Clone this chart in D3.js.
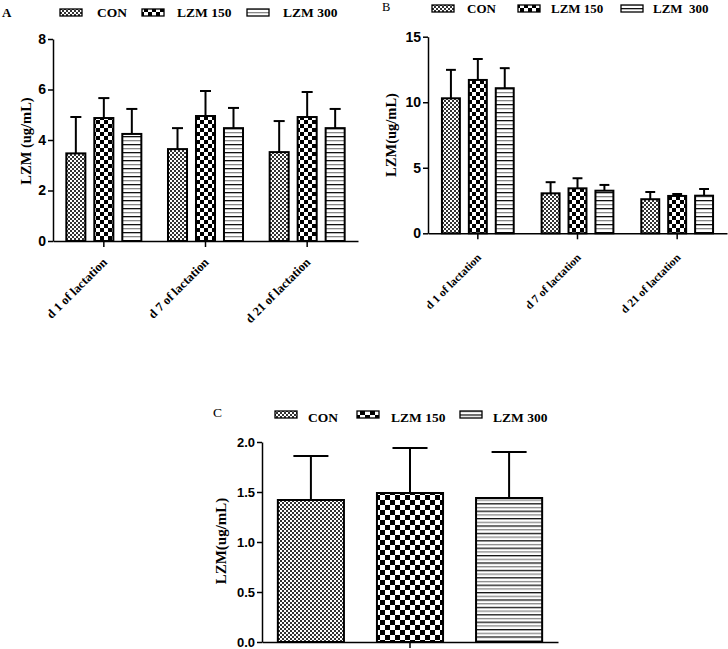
<!DOCTYPE html>
<html>
<head>
<meta charset="utf-8">
<script src="https://cdn.jsdelivr.net/npm/d3@7"></script>
<style>
  html, body { margin: 0; padding: 0; background: #fff; }
  svg { display: block; }
  .serif { font-family: "Liberation Serif", "Times New Roman", serif; }
  .sans { font-family: "Liberation Sans", Arial, sans-serif; }
</style>
</head>
<body>
<svg id="chart" width="728" height="649"></svg>
<script>
// ---------------- DATA ----------------
const categories = ["d 1 of lactation", "d 7 of lactation", "d 21 of lactation"];
const seriesNames = ["CON", "LZM 150", "LZM 300"];
const legendLabelsB = ["CON", "LZM 150", "LZM\u00a0 300"];

// Panel A (LZM, ug/mL)
const A_CON      = [3.47, 3.64, 3.52];
const A_CON_SD   = [1.44, 0.83, 1.23];
const A_L150     = [4.87, 4.95, 4.91];
const A_L150_SD  = [0.79, 0.99, 0.99];
const A_L300     = [4.24, 4.47, 4.47];
const A_L300_SD  = [0.99, 0.80, 0.76];
const A_TICKS    = [0, 2, 4, 6, 8];

// Panel B
const B_CON      = [10.30, 3.05, 2.60];
const B_CON_SD   = [2.17, 0.85, 0.55];
const B_L150     = [11.70, 3.43, 2.85];
const B_L150_SD  = [1.60, 0.77, 0.15];
const B_L300     = [11.07, 3.25, 2.87];
const B_L300_SD  = [1.53, 0.44, 0.51];
const B_TICKS    = [0, 5, 10, 15];

// Panel C (single group)
const C_CATEGORY = [""];
const C_CON      = [1.42];
const C_CON_SD   = [0.44];
const C_L150     = [1.49];
const C_L150_SD  = [0.45];
const C_L300     = [1.44];
const C_L300_SD  = [0.46];
const C_TICKS    = [0.0, 0.5, 1.0, 1.5, 2.0];

// ---------------- DRAW ----------------
const svg = d3.select("#chart");
const defs = svg.append("defs");

function fineCheck(id, s) {
  const p = defs.append("pattern").attr("id", id).attr("patternUnits", "userSpaceOnUse")
    .attr("width", 2 * s).attr("height", 2 * s);
  p.append("rect").attr("width", 2 * s).attr("height", 2 * s).attr("fill", "#fff");
  p.append("rect").attr("width", s).attr("height", s).attr("fill", "#333");
  p.append("rect").attr("x", s).attr("y", s).attr("width", s).attr("height", s).attr("fill", "#333");
}
function coarseCheck(id, s) {
  const p = defs.append("pattern").attr("id", id).attr("patternUnits", "userSpaceOnUse")
    .attr("width", 2 * s).attr("height", 2 * s);
  p.append("rect").attr("width", 2 * s).attr("height", 2 * s).attr("fill", "#fff");
  p.append("rect").attr("width", s).attr("height", s).attr("fill", "#000");
  p.append("rect").attr("x", s).attr("y", s).attr("width", s).attr("height", s).attr("fill", "#000");
}
function hLines(id, s) {
  const p = defs.append("pattern").attr("id", id).attr("patternUnits", "userSpaceOnUse")
    .attr("width", 4).attr("height", 2 * s);
  p.append("rect").attr("width", 4).attr("height", 2 * s).attr("fill", "#fff");
  p.append("rect").attr("y", 0).attr("width", 4).attr("height", 1.3).attr("fill", "#111");
  p.append("rect").attr("y", s).attr("width", 4).attr("height", 1.3).attr("fill", "#888");
}
fineCheck("p0", 2); coarseCheck("p1", 4); hLines("p2", 4);
fineCheck("q0", 2); coarseCheck("q1", 5); hLines("q2", 3.7);

function drawPanel(cfg) {
  const g = svg.append("g");
  const x0 = d3.scaleBand().domain(cfg.cats).range(cfg.xRange).paddingInner(0).paddingOuter(0);
  const x1 = d3.scaleBand().domain(seriesNames).range([0, x0.bandwidth()])
    .paddingInner(cfg.pin).paddingOuter(cfg.pout);
  const y = d3.scaleLinear().domain([0, cfg.yMax]).range(cfg.yRange);

  const rows = [];
  cfg.cats.forEach((c, i) => {
    seriesNames.forEach((s, j) => {
      rows.push({ cat: c, ser: s, j: j, v: cfg.means[j][i], e: cfg.sds[j][i] });
    });
  });

  const bw = x1.bandwidth();
  const capW = bw * cfg.capFrac;
  // error bars (upper only)
  const eb = g.append("g").attr("stroke", "#000").attr("stroke-width", cfg.ebw);
  rows.forEach(d => {
    const cx = x0(d.cat) + x1(d.ser) + bw / 2;
    eb.append("line").attr("x1", cx).attr("x2", cx).attr("y1", y(d.v)).attr("y2", y(d.v + d.e));
    eb.append("line").attr("x1", cx - capW / 2).attr("x2", cx + capW / 2)
      .attr("y1", y(d.v + d.e)).attr("y2", y(d.v + d.e));
  });
  // bars
  g.append("g").selectAll("rect").data(rows).join("rect")
    .attr("x", d => x0(d.cat) + x1(d.ser))
    .attr("y", d => y(d.v))
    .attr("width", bw)
    .attr("height", d => y(0) - y(d.v))
    .attr("fill", d => `url(#${cfg.pat}${d.j})`)
    .attr("stroke", "#000").attr("stroke-width", cfg.bsw);

  // y axis
  const ya = g.append("g").attr("transform", `translate(${cfg.xRange[0]},0)`)
    .call(d3.axisLeft(y).tickValues(cfg.ticks).tickFormat(d3.format(cfg.fmt)).tickSize(5).tickSizeOuter(0).tickPadding(2));
  ya.selectAll("path,line").attr("stroke", "#000").attr("stroke-width", 1.5);
  ya.selectAll("text").attr("class", "sans").attr("font-weight", "bold")
    .attr("font-size", cfg.tickFs).attr("fill", "#000");

  // x axis
  const xa = g.append("g").attr("transform", `translate(0,${cfg.yRange[0]})`)
    .call(d3.axisBottom(x0).tickSize(6).tickSizeOuter(0));
  xa.selectAll("path,line").attr("stroke", "#000").attr("stroke-width", 1.5);
  xa.selectAll("text").remove();
  if (cfg.xLabelFs) {
    cfg.cats.forEach(c => {
      const cx = x0(c) + x0.bandwidth() / 2 + cfg.xlOff[0];
      const cy = cfg.yRange[0] + cfg.xlOff[1];
      g.append("text").attr("class", "serif").attr("font-weight", "bold")
        .attr("font-size", cfg.xLabelFs).attr("text-anchor", "end")
        .attr("transform", `translate(${cx},${cy}) rotate(-45)`).text(c);
    });
  }

  // y label
  g.append("text").attr("class", "serif").attr("font-weight", "bold")
    .attr("font-size", cfg.yLabelFs).attr("text-anchor", "middle")
    .attr("transform", `translate(${cfg.yLabelPos[0]},${cfg.yLabelPos[1]}) rotate(-90)`)
    .text(cfg.yLabel);

  // panel letter
  g.append("text").attr("class", "serif").attr("font-weight", cfg.letterBold ? "bold" : "normal")
    .attr("font-size", cfg.letterFs).attr("x", cfg.letterPos[0]).attr("y", cfg.letterPos[1]).text(cfg.letter);

  // legend
  cfg.legendLabels.forEach((lab, j) => {
    g.append("rect").attr("x", cfg.legSw[j]).attr("y", cfg.legY).attr("width", 22).attr("height", 7)
      .attr("fill", `url(#${cfg.pat}${j})`).attr("stroke", "#000").attr("stroke-width", 1.3);
    g.append("text").attr("class", "serif").attr("font-weight", "bold")
      .attr("font-size", cfg.legFs).attr("x", cfg.legTx[j]).attr("y", cfg.legBase)
      .style("white-space", "pre").text(lab);
  });
}

drawPanel({
  cats: categories, means: [A_CON, A_L150, A_L300], sds: [A_CON_SD, A_L150_SD, A_L300_SD],
  xRange: [53, 358], yRange: [241, 39], yMax: 8, ticks: A_TICKS, fmt: "d",
  pin: 0.32, pout: 0.476, capFrac: 0.58, ebw: 2, bsw: 2, pat: "p",
  tickFs: 14, xLabelFs: 12.5, xlOff: [4, 22],
  yLabel: "LZM (ug/mL)", yLabelFs: 14.5, yLabelPos: [31, 141],
  letter: "A", letterBold: true, letterFs: 13, letterPos: [2, 17],
  legendLabels: seriesNames, legSw: [60, 142, 247], legTx: [97, 177, 283], legY: 9, legBase: 16.5, legFs: 13.5
});

drawPanel({
  cats: categories, means: [B_CON, B_L150, B_L300], sds: [B_CON_SD, B_L150_SD, B_L300_SD],
  xRange: [428, 727], yRange: [233.3, 36.7], yMax: 15, ticks: B_TICKS, fmt: "d",
  pin: 0.333, pout: 0.518, capFrac: 0.55, ebw: 2, bsw: 2, pat: "p",
  tickFs: 14, xLabelFs: 11.5, xlOff: [4, 25],
  yLabel: "LZM(ug/mL)", yLabelFs: 14.5, yLabelPos: [396, 135],
  letter: "B", letterBold: false, letterFs: 12.5, letterPos: [382, 11],
  legendLabels: legendLabelsB, legSw: [432, 518, 621], legTx: [467, 551, 653], legY: 5, legBase: 12.5, legFs: 13
});

drawPanel({
  cats: C_CATEGORY, means: [C_CON, C_L150, C_L300], sds: [C_CON_SD, C_L150_SD, C_L300_SD],
  xRange: [262, 558], yRange: [642, 442], yMax: 2, ticks: C_TICKS, fmt: ".1f",
  pin: 0.333, pout: 0.16, capFrac: 0.53, ebw: 2, bsw: 2, pat: "q",
  tickFs: 13, xLabelFs: 0, xlOff: [0, 0],
  yLabel: "LZM(ug/mL)", yLabelFs: 15, yLabelPos: [226, 541],
  letter: "C", letterBold: false, letterFs: 13.5, letterPos: [213, 417],
  legendLabels: seriesNames, legSw: [275, 357, 460], legTx: [308, 391, 493], legY: 411, legBase: 421.5, legFs: 13.5
});
</script>
</body>
</html>
